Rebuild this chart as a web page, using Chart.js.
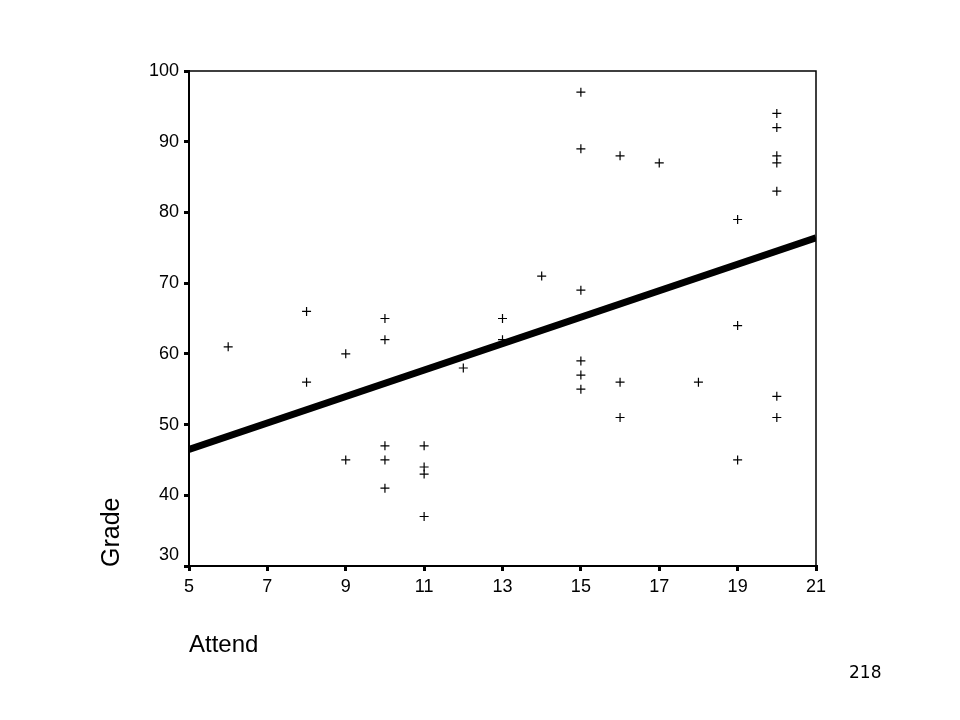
<!DOCTYPE html>
<html>
<head>
<meta charset="utf-8">
<script src="https://cdn.jsdelivr.net/npm/chart.js@4.4.1/dist/chart.umd.min.js"></script>
<style>
  html, body { margin: 0; padding: 0; background: #fff; }
  #wrap { position: relative; width: 960px; height: 720px; }
</style>
</head>
<body>
<div id="wrap"><canvas id="c" width="960" height="720"></canvas></div>
<script>
// Scatter data: Attend (x) and Grade (y)
const attend = [6, 8, 8, 9, 9, 10, 10, 10, 10, 10, 11, 11, 11, 11, 12, 13, 13, 14,
                15, 15, 15, 15, 15, 15, 16, 16, 16, 17, 18, 19, 19, 19,
                20, 20, 20, 20, 20, 20, 20];
const grade  = [61, 66, 56, 60, 45, 65, 62, 47, 45, 41, 47, 44, 43, 37, 58, 65, 62, 71,
                97, 89, 69, 59, 57, 55, 88, 56, 51, 87, 56, 79, 64, 45,
                94, 92, 88, 87, 83, 54, 51];
// Fitted regression line endpoints
const fitX = [5, 21];
const fitY = [46.5, 76.4];
// Axis ticks
const xTicks = [5, 7, 9, 11, 13, 15, 17, 19, 21];
const yTicks = [30, 40, 50, 60, 70, 80, 90, 100];

const xTitle = 'Attend';
const yTitle = 'Grade';
const pageNum = '218';

const points = attend.map((x, i) => ({ x: x, y: grade[i] }));
const fitLine = fitX.map((x, i) => ({ x: x, y: fitY[i] }));

const extras = {
  id: 'extras',
  afterDraw(chart) {
    const ctx = chart.ctx;
    const a = chart.chartArea;
    ctx.save();
    // top and right frame
    ctx.strokeStyle = '#000';
    ctx.lineWidth = 1.5;
    ctx.beginPath();
    ctx.moveTo(a.left, a.top);
    ctx.lineTo(a.right, a.top);
    ctx.lineTo(a.right, a.bottom);
    ctx.stroke();
    ctx.fillStyle = '#000';
    // y title
    ctx.font = '25px "Liberation Sans", Arial, sans-serif';
    ctx.textBaseline = 'middle';
    ctx.textAlign = 'left';
    ctx.save();
    ctx.translate(112, 567);
    ctx.rotate(-Math.PI / 2);
    ctx.fillText(yTitle, 0, 0);
    ctx.restore();
    // x title
    ctx.font = '24px "Liberation Sans", Arial, sans-serif';
    ctx.textAlign = 'left';
    ctx.fillText(xTitle, 189, 645);
    // page number
    ctx.font = '17px "DejaVu Sans", "Liberation Sans", sans-serif';
    ctx.textAlign = 'left';
    ctx.fillText(pageNum, 849, 674);
    ctx.restore();
  }
};

new Chart(document.getElementById('c'), {
  type: 'scatter',
  data: {
    datasets: [
      {
        type: 'line',
        data: fitLine,
        borderColor: '#000',
        borderWidth: 7,
        pointRadius: 0,
        fill: false,
        order: 2
      },
      {
        data: points,
        pointStyle: 'cross',
        pointRadius: 4.5,
        pointBorderWidth: 1.2,
        borderColor: '#000',
        backgroundColor: '#000',
        order: 1
      }
    ]
  },
  options: {
    responsive: false,
    animation: false,
    devicePixelRatio: 1,
    layout: { padding: { left: 0, top: 71, right: 144, bottom: 114 } },
    plugins: { legend: { display: false }, tooltip: { enabled: false } },
    scales: {
      x: {
        type: 'linear',
        min: 5, max: 21,
        afterBuildTicks: (s) => { s.ticks = xTicks.map(v => ({ value: v })); },
        afterFit: (s) => { s.height = 40; },
        border: { display: true, color: '#000', width: 2 },
        grid: { drawOnChartArea: false, drawTicks: true, tickLength: 5, lineWidth: 3, color: '#000' },
        ticks: { color: '#000', padding: 5, font: { family: '"Liberation Sans", Arial, sans-serif', size: 18 } }
      },
      y: {
        type: 'linear',
        min: 30, max: 100,
        afterBuildTicks: (s) => { s.ticks = yTicks.map(v => ({ value: v })); },
        afterFit: (s) => { s.width = 189; },
        border: { display: true, color: '#000', width: 2 },
        grid: { drawOnChartArea: false, drawTicks: true, tickLength: 5, lineWidth: 3, color: '#000' },
        ticks: {
          color: '#000', padding: 5,
          font: { family: '"Liberation Sans", Arial, sans-serif', size: 18 },
          callback: (v) => (v === yTicks[0] ? [String(v), ''] : String(v))
        }
      }
    }
  },
  plugins: [extras]
});
</script>
</body>
</html>
